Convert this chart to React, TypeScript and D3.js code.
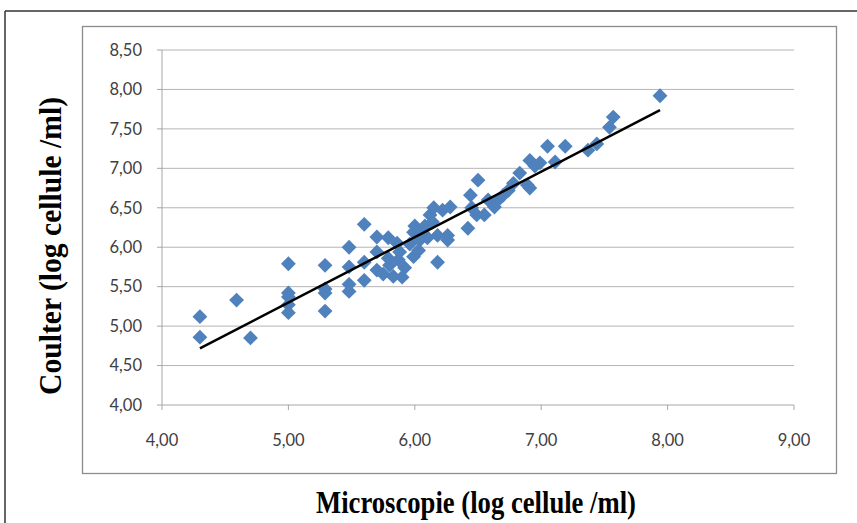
import React from 'react';
import * as d3 from 'd3';

// Microscopie (log cellule /ml)
const microscopie = [
  4.30, 4.30, 4.59, 4.70, 5.00, 5.00, 5.00, 5.00, 5.00, 5.29, 5.29, 5.29, 5.29,
  5.48, 5.48, 5.48, 5.48, 5.60, 5.60, 5.60, 5.70, 5.70, 5.70, 5.75, 5.79, 5.79,
  5.80, 5.83, 5.86, 5.87, 5.88, 5.90, 5.92, 5.96, 5.99, 6.00, 5.99, 6.03, 6.04,
  6.06, 6.08, 6.10, 6.12, 6.14, 6.15, 6.18, 6.18, 6.22, 6.26, 6.26, 6.28, 6.42,
  6.44, 6.45, 6.50, 6.49, 6.55, 6.58, 6.63, 6.66, 6.70, 6.74, 6.78, 6.83, 6.89,
  6.91, 6.91, 6.95, 6.99, 7.05, 7.11, 7.19, 7.37, 7.44, 7.54, 7.57, 7.94
];
// Coulter (log cellule /ml)
const coulter = [
  5.12, 4.86, 5.33, 4.85, 5.79, 5.42, 5.37, 5.27, 5.17, 5.77, 5.47, 5.42, 5.19,
  6.00, 5.75, 5.53, 5.44, 6.29, 5.81, 5.58, 6.13, 5.94, 5.71, 5.66, 6.12, 5.86,
  5.77, 5.63, 6.05, 5.84, 5.94, 5.62, 5.74, 6.04, 6.19, 6.27, 5.88, 5.96, 6.09,
  6.19, 6.27, 6.12, 6.41, 6.32, 6.50, 6.15, 5.81, 6.47, 6.15, 6.09, 6.51, 6.24,
  6.66, 6.50, 6.85, 6.41, 6.41, 6.60, 6.51, 6.60, 6.66, 6.72, 6.81, 6.94, 6.79,
  7.10, 6.75, 7.03, 7.07, 7.28, 7.08, 7.28, 7.23, 7.31, 7.52, 7.65, 7.92
];
const xTicks = [4, 5, 6, 7, 8, 9];
const yTicks = [4, 4.5, 5, 5.5, 6, 6.5, 7, 7.5, 8, 8.5];

const fmt = (v: number) => v.toFixed(2).replace('.', ',');

export default function App() {
  const x = d3.scaleLinear().domain([4, 9]).range([162, 794]);
  const y = d3.scaleLinear().domain([4, 8.5]).range([405, 50]);

  const pts = microscopie.map((v, i) => ({ x: v, y: coulter[i] }));

  // linear trendline (least squares)
  const mx = d3.mean(microscopie) as number;
  const my = d3.mean(coulter) as number;
  let sxy = 0, sxx = 0;
  pts.forEach(p => { sxy += (p.x - mx) * (p.y - my); sxx += (p.x - mx) * (p.x - mx); });
  const slope = sxy / sxx;
  const icpt = my - slope * mx;
  const [x0, x1] = d3.extent(microscopie) as [number, number];

  const diamond = d3.symbol().type(d3.symbolSquare).size(110)() as string;

  return (
    <svg width={857} height={523} style={{ position: 'absolute', left: 0, top: 0, background: '#fff' }}>
      {/* outer frame */}
      <line x1={5} y1={11} x2={857} y2={11} stroke="#333" strokeWidth={1.5} />
      <line x1={5} y1={11} x2={5} y2={523} stroke="#333" strokeWidth={1.5} />
      {/* chart area */}
      <rect x={82.5} y={26.5} width={754} height={447} fill="#fff" stroke="#8c8c8c" strokeWidth={1.3} />

      {/* gridlines */}
      {yTicks.slice(1).map(t => (
        <line key={t} x1={x(4)} x2={x(9)} y1={y(t)} y2={y(t)} stroke="#b5b5b5" strokeWidth={1} />
      ))}
      {/* axes */}
      <line x1={x(4)} x2={x(4)} y1={y(8.5)} y2={y(4)} stroke="#a6a6a6" strokeWidth={1} />
      <line x1={x(4)} x2={x(9)} y1={y(4)} y2={y(4)} stroke="#a6a6a6" strokeWidth={1} />
      {yTicks.map(t => (
        <g key={t}>
          <line x1={x(4) - 5} x2={x(4)} y1={y(t)} y2={y(t)} stroke="#a6a6a6" />
          <text x={142} y={y(t)} dy="0.35em" textAnchor="end" fontFamily="Lato" fontSize={16.5} fill="#404040">{fmt(t)}</text>
        </g>
      ))}
      {xTicks.map(t => (
        <g key={t}>
          <line x1={x(t)} x2={x(t)} y1={y(4)} y2={y(4) + 5} stroke="#a6a6a6" />
          <text x={x(t)} y={446} textAnchor="middle" fontFamily="Lato" fontSize={16.5} fill="#404040">{fmt(t)}</text>
        </g>
      ))}

      {/* points */}
      {pts.map((p, i) => (
        <path key={i} d={diamond} transform={`translate(${x(p.x)},${y(p.y)}) rotate(45)`} fill="#4F81BD" />
      ))}

      {/* trendline */}
      <line x1={x(x0)} y1={y(icpt + slope * x0)} x2={x(x1)} y2={y(icpt + slope * x1)} stroke="#000" strokeWidth={2.5} />

      {/* axis titles */}
      <text x={476} y={513} textAnchor="middle" fontFamily="Liberation Serif" fontWeight="bold" fontSize={31}
        textLength={320} lengthAdjust="spacingAndGlyphs">Microscopie (log cellule /ml)</text>
      <text transform="translate(61,246) rotate(-90)" textAnchor="middle" fontFamily="Liberation Serif" fontWeight="bold" fontSize={31}
        textLength={298} lengthAdjust="spacingAndGlyphs">Coulter (log cellule /ml)</text>
    </svg>
  );
}
